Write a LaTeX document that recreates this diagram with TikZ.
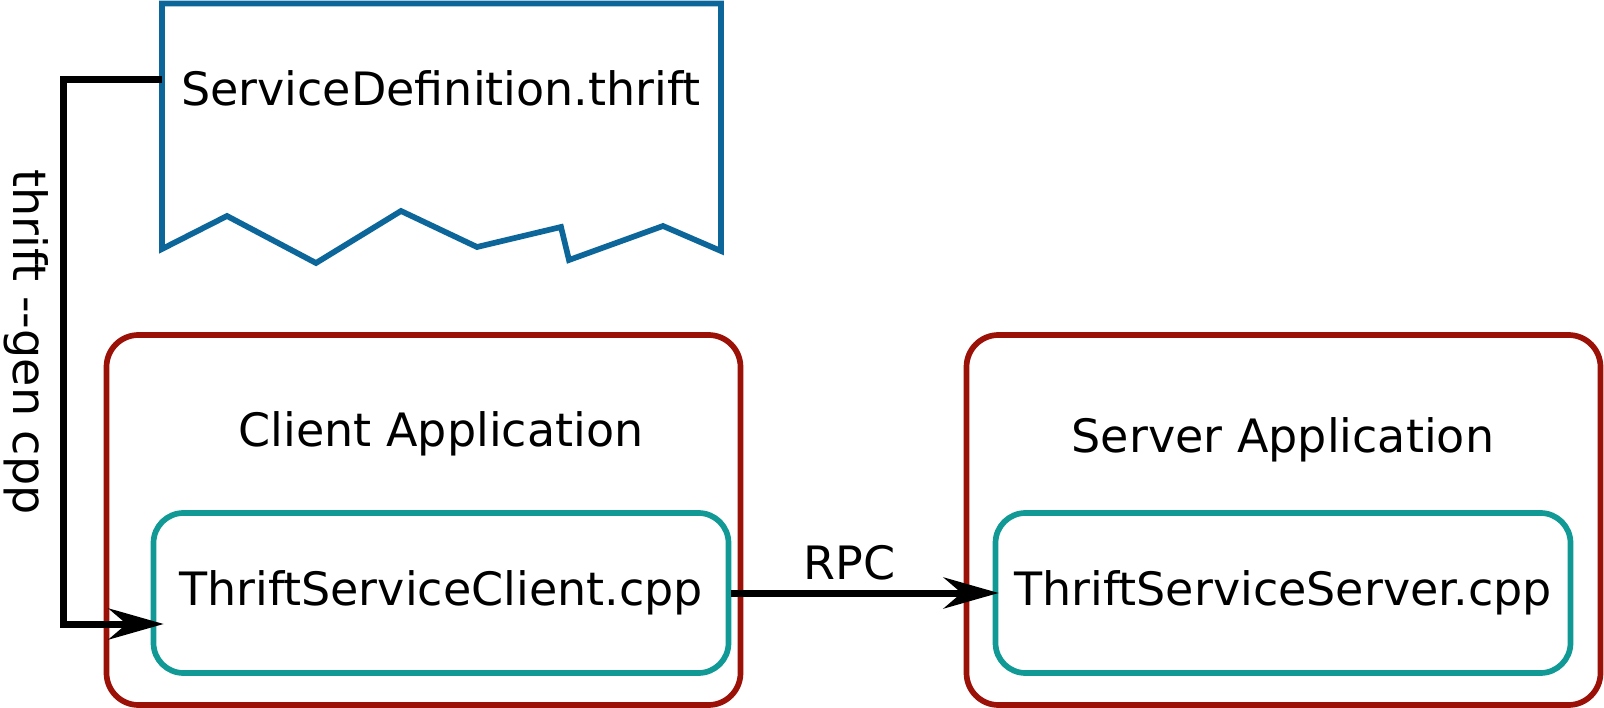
\documentclass[tikz,border=0pt]{standalone}
\usepackage{fontspec}
\setmainfont{DejaVu Sans}[Ligatures=TeXOff]
\usetikzlibrary{arrows.meta}

\definecolor{docblue}{RGB}{13,102,153}
\definecolor{appred}{RGB}{155,17,8}
\definecolor{srcteal}{RGB}{17,153,150}

\tikzset{
  appbox/.style={draw=appred, line width=5.7pt, rounded corners=32pt,
    minimum width=634pt, minimum height=370pt},
  srcbox/.style={draw=srcteal, line width=5.7pt, rounded corners=30pt,
    minimum width=575pt, minimum height=160pt, inner sep=0pt},
  flow/.style={line width=7pt, -{Stealth[length=55pt, width=31pt]}},
}

\begin{document}
\begin{tikzpicture}[x=1pt, y=-1pt, font=\fontsize{46}{55}\selectfont]
\useasboundingbox (0,0) rectangle (1604,708);

% service definition (torn document)
\draw[docblue, line width=5.7pt] (162,3.5) -- (721,3.5) -- (721,251)
  -- (663,226) -- (569,260) -- (561,227) -- (477,247) -- (401,211)
  -- (316,263) -- (227,216) -- (162,249) -- cycle;
\node (doc) at (441,88) {ServiceDefinition.thrift};
\coordinate (docport) at (162,80);

% applications
\node[appbox] (client) at (423.5,520) {};
\node[appbox] (server) at (1283.5,520) {};
\node (clientlbl) at (441,434) {Client Application};
\node (serverlbl) at (1283,440) {Server Application};

% generated sources
\node[srcbox] (cli) at (441,593) {ThriftServiceClient.cpp};
\node[srcbox] (srv) at (1283,593) {ThriftServiceServer.cpp};

% code generation
\draw[flow] (docport) -- ++(-99,0) |- ([xshift=13pt, yshift=-31pt]cli.west);
\node[rotate=-90] (gen) at (26,342) {thrift --gen cpp};

% remote call
\draw[flow, shorten >=-6pt] (cli.east) -- (srv.west);
\node[anchor=south, inner sep=0pt] (rpc) at (849.5,580) {RPC};
\end{tikzpicture}
\end{document}
